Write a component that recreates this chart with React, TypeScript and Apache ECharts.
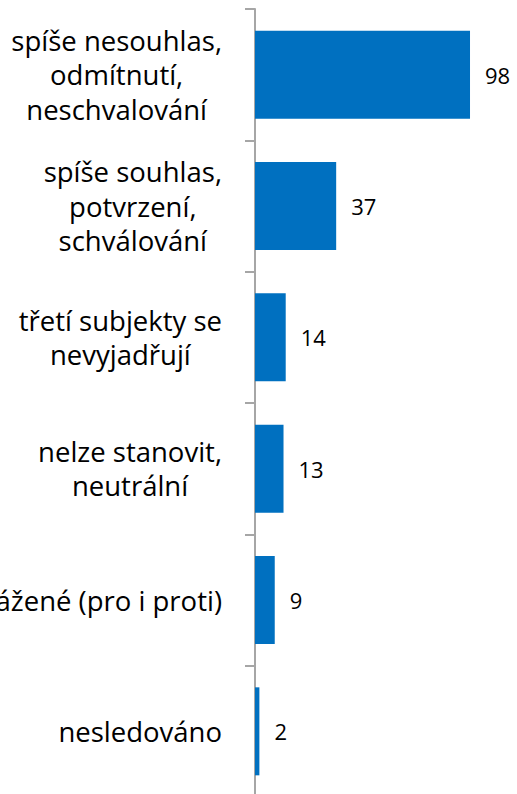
import React, { useEffect, useRef } from "react";
import * as echarts from "echarts";

const categories = [
  "spíše nesouhlas,\nodmítnutí,\nneschvalování",
  "spíše souhlas,\npotvrzení,\nschválování",
  "třetí subjekty se\nnevyjadřují",
  "nelze stanovit,\nneutrální",
  "vyvážené (pro i proti)",
  "nesledováno",
];
const values = [98, 37, 14, 13, 9, 2];

const FONT = "Open Sans";

export default function App() {
  const ref = useRef<HTMLDivElement>(null);
  useEffect(() => {
    if (!ref.current) return;
    const chart = echarts.init(ref.current, null, { renderer: "svg" });
    chart.setOption({
      animation: false,
      backgroundColor: "#ffffff",
      grid: {
        left: 255,
        top: 9,
        width: 219.4,
        height: 788,
        containLabel: false,
        outerBoundsMode: "none",
      },
      xAxis: { type: "value", min: 0, max: 100, show: false },
      yAxis: {
        type: "category",
        inverse: true,
        data: categories,
        axisLine: { show: true, lineStyle: { color: "#a6a6a6", width: 2 } },
        axisTick: { show: true, length: 10, lineStyle: { color: "#a6a6a6", width: 2 } },
        axisLabel: {
          margin: 33,
          align: "right",
          color: "#000000",
          fontFamily: FONT,
          fontSize: 27.5,
          lineHeight: 34.5,
          formatter: (v: string) =>
            v.split("\n").map((l) => `{c|${l}}`).join("\n"),
          rich: {
            c: { align: "center", fontFamily: FONT, fontSize: 27.5, lineHeight: 34.5, color: "#000000" },
          },
        },
      },
      series: [
        {
          type: "bar",
          data: values,
          barWidth: 88,
          itemStyle: { color: "#0070C0" },
          label: {
            show: true,
            position: "right",
            distance: 15,
            color: "#000000",
            fontFamily: FONT,
            fontSize: 22,
          },
        },
      ],
    });
    return () => chart.dispose();
  }, []);
  return (
    <div
      ref={ref}
      style={{ position: "fixed", left: 0, top: 0, width: 517, height: 794 }}
    />
  );
}
